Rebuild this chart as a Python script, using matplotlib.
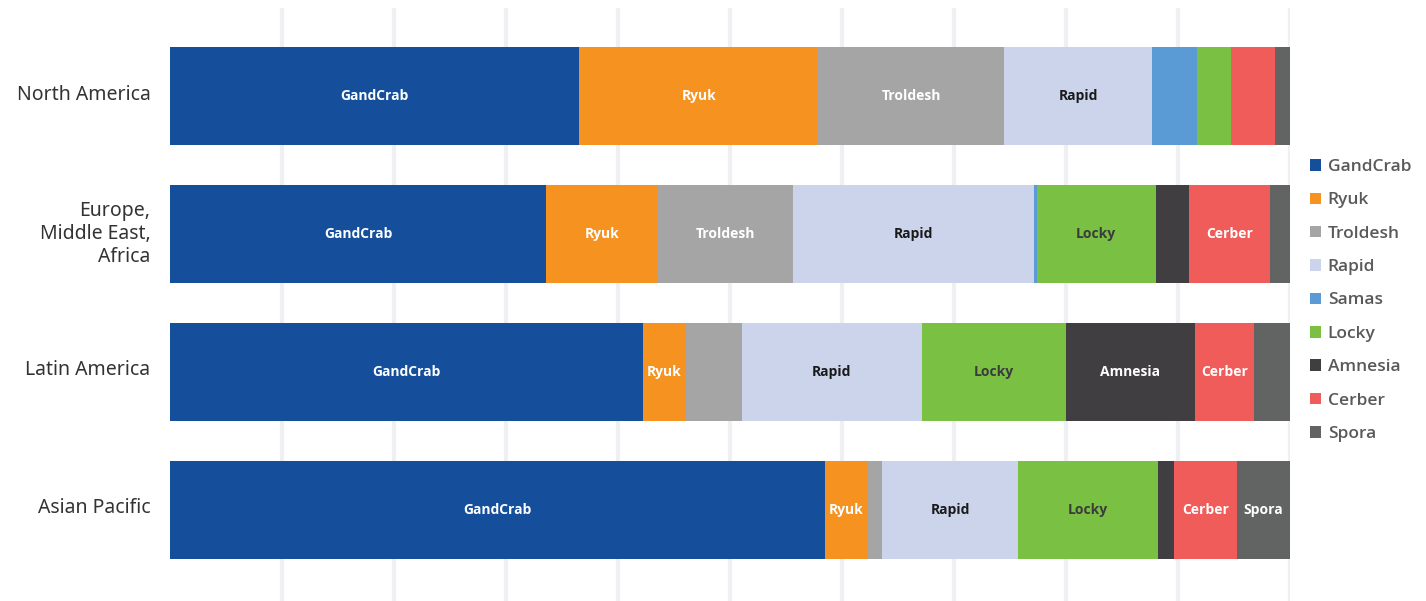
import numpy as np
import matplotlib.pyplot as plt
from matplotlib.patches import Patch

regions = ['North America', 'Europe,\nMiddle East,\nAfrica', 'Latin America', 'Asian Pacific']
families = ['GandCrab', 'Ryuk', 'Troldesh', 'Rapid', 'Samas', 'Locky', 'Amnesia', 'Cerber', 'Spora']

# share of each family per region (%), rows follow `families`
gandcrab = [36.5, 33.6, 42.2, 58.5]
ryuk = [21.4, 10.0, 3.9, 3.8]
troldesh = [16.6, 12.0, 5.0, 1.3]
rapid = [13.2, 21.5, 16.0, 12.1]
samas = [4.0, 0.3, 0.0, 0.0]
locky = [3.0, 10.6, 12.9, 12.5]
amnesia = [0.0, 3.0, 11.5, 1.4]
cerber = [4.0, 7.2, 5.3, 5.7]
spora = [1.3, 1.8, 3.2, 4.7]
shares = [gandcrab, ryuk, troldesh, rapid, samas, locky, amnesia, cerber, spora]

# which segments carry an in-bar label
labelled = [
    ['GandCrab', 'Ryuk', 'Troldesh', 'Rapid'],
    ['GandCrab', 'Ryuk', 'Troldesh', 'Rapid', 'Locky', 'Cerber'],
    ['GandCrab', 'Ryuk', 'Rapid', 'Locky', 'Amnesia', 'Cerber'],
    ['GandCrab', 'Ryuk', 'Rapid', 'Locky', 'Cerber', 'Spora'],
]

colors = ['#154f9c', '#f59220', '#a5a5a5', '#ccd4eb', '#5b9bd5',
          '#7ac143', '#403e41', '#f05c59', '#626363']
text_colors = ['white', 'white', 'white', '#1a1a1a', 'white',
               '#3b3b3b', 'white', 'white', 'white']

plt.rcParams['font.family'] = ['Open Sans', 'DejaVu Sans']

fig = plt.figure(figsize=(14.26, 6.01), dpi=100)
ax = fig.add_axes([170 / 1426, 0.0, 1120 / 1426, 593 / 601])

y = np.arange(len(regions))

for g in range(10, 101, 10):
    ax.plot([g, g], [-0.64, 3.66], color='#eef0f3', lw=3, solid_capstyle='round', zorder=0)

left = np.zeros(len(regions))
for i, fam in enumerate(families):
    vals = np.array(shares[i])
    ax.barh(y, vals, left=left, height=0.71, color=colors[i], zorder=2)
    for r in range(len(regions)):
        if fam in labelled[r]:
            ax.text(left[r] + vals[r] / 2, y[r], fam, ha='center', va='center',
                    color=text_colors[i], fontsize=10, fontweight='bold', zorder=3)
    left += vals

ax.set_xlim(0, 100)
ax.set_ylim(3.66, -0.64)
ax.set_yticks(y - 0.03)
ax.set_yticklabels(regions, fontsize=14, color='#333333', family=['Noto Sans', 'DejaVu Sans'])
ax.tick_params(axis='y', length=0, pad=14)
ax.set_xticks([])
for s in ax.spines.values():
    s.set_visible(False)

handles = [Patch(facecolor=c, label=f) for f, c in zip(families, colors)]
leg = fig.legend(handles=handles, loc='center left', bbox_to_anchor=(1294 / 1426, 0.5),
                 frameon=False, fontsize=12.5, handlelength=0.65, handleheight=0.65,
                 handletextpad=0.4, labelspacing=1.0)
for t in leg.get_texts():
    t.set_color('#595959')
    t.set_fontweight('semibold')

fig.savefig('out.png', dpi=100)
